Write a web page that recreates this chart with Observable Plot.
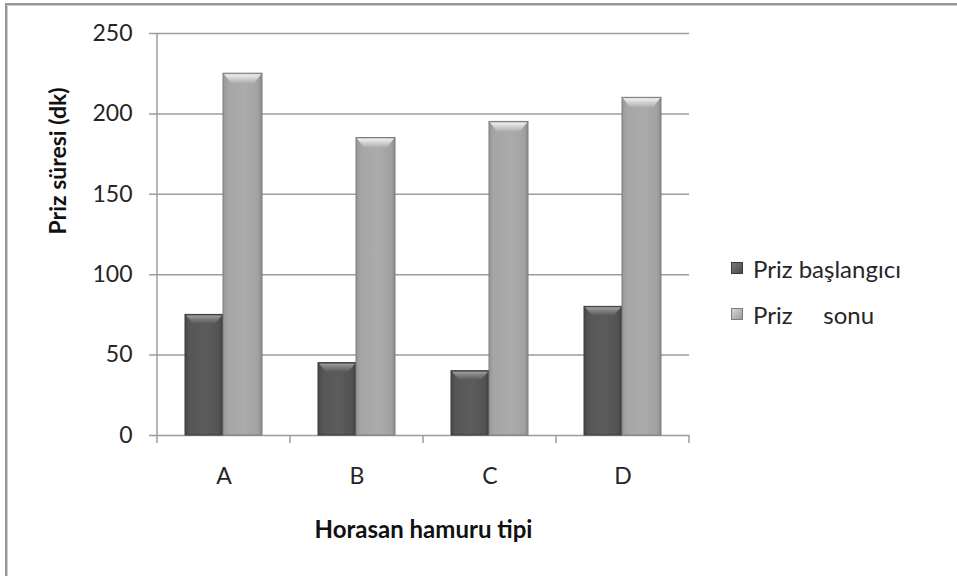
<!DOCTYPE html>
<html>
<head>
<meta charset="utf-8">
<script src="https://cdn.jsdelivr.net/npm/d3@7"></script>
<script src="https://cdn.jsdelivr.net/npm/@observablehq/plot@0.6"></script>
<style>
  html, body { margin: 0; padding: 0; background: #fff; }
  #chart { position: relative; width: 957px; height: 576px; overflow: hidden; font-family: Lato, "Open Sans", sans-serif; }
  #frame { position: absolute; left: 5px; top: 3px; right: -4px; bottom: -4px;
           border-left: 2px solid #979797; border-top: 2px solid #979797;
           box-shadow: inset 1px 1px 0 #cfcfcf; }
  #chart svg { position: absolute; left: 0; top: 0; }
  #legend { position: absolute; left: 731px; top: 253px; font-size: 24px; color: #262626; }
  #legend .row { display: flex; align-items: center; height: 30px; margin-bottom: 16px; white-space: pre; }
  #legend .sw { width: 12px; height: 12px; margin-right: 10px; box-sizing: border-box; }
</style>
</head>
<body>
<div id="chart"><div id="frame"></div></div>
<script>
// Horasan hamuru tiplerinin priz süreleri (dk)
const categories = ["A", "B", "C", "D"];
const seriesNames = ["Priz başlangıcı", "Priz     sonu"];
const prizBaslangici = [75, 45, 40, 80];
const prizSonu = [225, 185, 195, 210];
const yTicks = [0, 50, 100, 150, 200, 250];
const yTitle = "Priz süresi (dk)";
const xTitle = "Horasan hamuru tipi";

const startRows = categories.map((c, i) => ({category: c, series: seriesNames[0], value: prizBaslangici[i]}));
const endRows = categories.map((c, i) => ({category: c, series: seriesNames[1], value: prizSonu[i]}));

const gridColor = "#9d9d9d";
const dark = {insetLeft: 28, insetRight: 67};
const light = {insetLeft: 66, insetRight: 28};

// Gradient definitions for the shaded bar bodies and their bevelled tops
function gradients() {
  const g = d3.create("svg:g");
  const defs = g.append("defs");
  const grad = (id, vertical, stops) => {
    const lg = defs.append("linearGradient").attr("id", id)
      .attr("x1", 0).attr("y1", 0).attr("x2", vertical ? 0 : 1).attr("y2", vertical ? 1 : 0);
    stops.forEach(([o, c]) => lg.append("stop").attr("offset", o).attr("stop-color", c));
  };
  grad("bodyDark", false, [[0, "#474747"], [0.12, "#565656"], [0.55, "#5c5c5c"], [0.9, "#525252"], [1, "#3c3c3c"]]);
  grad("bodyLight", false, [[0, "#979797"], [0.12, "#a5a5a5"], [0.55, "#ababab"], [0.9, "#a2a2a2"], [1, "#8a8a8a"]]);
  grad("capDark", true, [[0, "#a0a0a0"], [0.45, "#7c7c7c"], [1, "#5c5c5c"]]);
  grad("capLight", true, [[0, "#f2f2f2"], [0.45, "#d2d2d2"], [1, "#adadad"]]);
  return g.node();
}

// Y axis line and the category boundary ticks on the band scale
function axisLines(index, {x, y}) {
  const starts = categories.map(c => x(c));
  const step = starts[1] - starts[0];
  const xs = [...starts, starts[starts.length - 1] + step];
  const g = d3.create("svg:g").attr("stroke", gridColor).attr("stroke-width", 1.5);
  g.append("line").attr("x1", xs[0]).attr("x2", xs[0]).attr("y1", y(250)).attr("y2", y(0));
  for (const xv of xs) {
    g.append("line").attr("x1", xv).attr("x2", xv).attr("y1", y(0)).attr("y2", y(0) + 8);
  }
  return g.node();
}

// Bevelled trapezoid caps on top of each bar, placed through the scales
function caps(rows, inset, fillId, depth) {
  return (index, {x, y}) => {
    const step = x(categories[1]) - x(categories[0]);
    const g = d3.create("svg:g").attr("fill", `url(#${fillId})`);
    for (const d of rows) {
      const l = x(d.category) + inset.insetLeft + 1;
      const r = x(d.category) + step - inset.insetRight - 1;
      const t = y(d.value) + 1;
      g.append("polygon").attr("points", [[l, t], [r, t], [r - 7, t + depth], [l + 7, t + depth]].map(p => p.join(",")).join(" "));
    }
    return g.node();
  };
}

const plot = Plot.plot({
  width: 957,
  height: 576,
  marginLeft: 157,
  marginRight: 268,
  marginTop: 33,
  marginBottom: 141,
  x: {domain: categories, padding: 0},
  y: {domain: [0, 250]},
  style: {background: "transparent", fontFamily: "Lato, 'Open Sans', sans-serif", color: "#262626"},
  marks: [
    gradients,
    Plot.ruleY(yTicks, {y: d => d, stroke: gridColor, strokeWidth: 1.5, insetLeft: -8}),
    axisLines,
    Plot.barY(startRows, {x: "category", y: "value", ...dark, fill: "url(#bodyDark)", stroke: "#3a3a3a", strokeWidth: 1}),
    Plot.barY(endRows, {x: "category", y: "value", ...light, fill: "url(#bodyLight)", stroke: "#7c7c7c", strokeWidth: 1}),
    caps(startRows, dark, "capDark", 8),
    caps(endRows, light, "capLight", 9),
    Plot.axisY({ticks: yTicks, tickSize: 0, tickPadding: 25, fontSize: 23, label: null, fill: "#262626"}),
    Plot.axisX({tickSize: 0, tickPadding: 32, fontSize: 23, label: null, fill: "#262626"}),
    Plot.text([yTitle], {text: d => d, frameAnchor: "left", rotate: -90, dx: -99, fontSize: 23, fontWeight: "bold", fill: "#111"}),
    Plot.text([xTitle], {text: d => d, frameAnchor: "bottom", lineAnchor: "middle", dy: 95, fontSize: 24, fontWeight: "bold", fill: "#111"})
  ]
});

const chart = document.getElementById("chart");
chart.appendChild(plot);

// Legend beside the plot area
const legend = d3.select(chart).append("div").attr("id", "legend");
const swatches = [
  {bg: "linear-gradient(135deg, #7a7a7a, #4a4a4a)", border: "#3a3a3a"},
  {bg: "linear-gradient(135deg, #d8d8d8, #9a9a9a)", border: "#7c7c7c"}
];
seriesNames.forEach((name, i) => {
  const row = legend.append("div").attr("class", "row");
  row.append("div").attr("class", "sw").style("background", swatches[i].bg).style("border", `1px solid ${swatches[i].border}`);
  row.append("span").text(name);
});
</script>
</body>
</html>
